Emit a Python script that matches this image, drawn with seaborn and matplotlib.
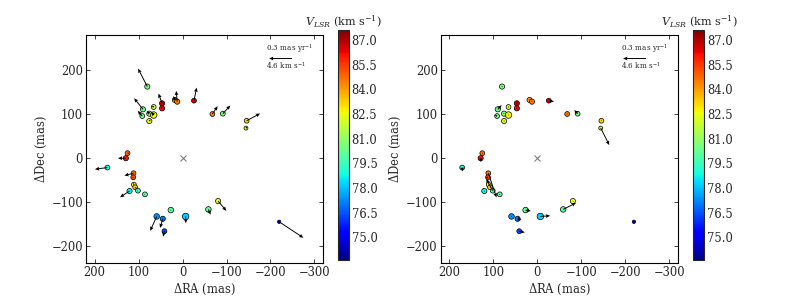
import numpy as np
import pandas as pd
import seaborn as sns
import matplotlib.pyplot as plt
from matplotlib import cm, colors

# spot positions (mas), LSR velocity (km/s), marker size
ra = [80.2, 46.6, 46.6, 17.6, 12.2, -26.0, -67.9, -91.6, -145.8, -144.3,
      90.1, 91.6, 75.6, 65.6, 65.6, 75.6,
      125.2, 129.0, 171.0, 111.5, 112.2, 110.7, 107.6, 120.6, 101.5, 85.5,
      -80.9, -58.8, 26.7, -6.9, 58.8, 45.0, 41.2, -219.8]
dec = [162.6, 124.4, 113.0, 132.1, 128.2, 130.5, 100.0, 100.8, 84.7, 67.9,
       110.7, 95.4, 100.8, 116.0, 97.7, 84.0,
       10.7, -0.8, -22.1, -35.1, -44.3, -61.1, -67.2, -75.6, -74.8, -83.2,
       -98.5, -117.6, -119.1, -133.6, -133.6, -138.9, -167.2, -145.8]
vlsr = [80.5, 86.8, 86.2, 84.0, 84.5, 86.5, 84.5, 80.6, 83.2, 81.8,
        80.3, 80.5, 80.9, 81.7, 82.7, 82.4,
        84.7, 86.0, 79.2, 84.6, 85.3, 82.8, 83.2, 78.7, 79.6, 80.1,
        82.5, 80.2, 80.0, 78.2, 77.4, 77.0, 76.4, 74.2]
msize = [14, 14, 14, 14, 14, 12, 12, 12, 12, 8,
         14, 12, 14, 12, 22, 14,
         12, 14, 12, 12, 12, 12, 12, 14, 12, 12,
         14, 16, 16, 22, 16, 14, 12, 6]

# proper motions (mas/yr), left and right panels
pmx_a = [0.121, 0.047, 0.009, 0.017, 0.013, -0.035, -0.069, -0.099, -0.177, -0.021,
         0.116, 0.060, 0.035, 0.026, 0.035, -0.017,
         -0.026, 0.104, 0.164, 0.121, 0.010, 0.013, -0.022, 0.125, 0.010, 0.012,
         -0.108, -0.030, 0.010, -0.004, 0.086, 0.035, 0.017, -0.319]
pmy_a = [0.237, 0.129, 0.021, 0.052, 0.142, 0.172, 0.103, 0.108, 0.095, 0.017,
         0.147, 0.069, 0.035, 0.013, 0.043, 0.022,
         0.0, 0.0, -0.022, -0.030, -0.010, 0.022, -0.022, -0.082, -0.010, 0.005,
         -0.129, -0.069, 0.005, -0.090, -0.190, -0.121, -0.073, -0.211]
pmx_b = [0.005, 0.008, 0.008, 0.010, -0.008, -0.069, 0.010, 0.043, 0.006, -0.112,
         -0.052, 0.030, 0.010, 0.008, -0.008, 0.006,
         0.005, -0.004, -0.004, -0.108, 0.030, 0.008, -0.010, -0.008, 0.086, 0.006,
         -0.010, -0.168, -0.069, -0.129, 0.008, -0.052, -0.074, -0.010]
pmy_b = [0.010, 0.008, -0.005, 0.008, -0.006, -0.013, 0.0, 0.048, 0.012, -0.224,
         0.056, 0.010, 0.010, 0.008, 0.006, 0.008,
         0.005, -0.052, -0.052, -0.319, -0.010, 0.010, -0.010, -0.012, 0.155, 0.004,
         -0.008, 0.086, -0.013, 0.009, 0.004, -0.017, -0.017, 0.010]

vmin, vmax = 73.6, 87.6
cbar_ticks = [75.0, 76.5, 78.0, 79.5, 81.0, 82.5, 84.0, 85.5, 87.0]
pm_scale = 1 / 173.0  # mas/yr -> mas on the plot

df = pd.DataFrame({'ra': ra, 'dec': dec, 'vlsr': vlsr, 'size': msize})

sns.set_style("ticks")
plt.rcParams['font.family'] = ['DejaVu Serif']
plt.rcParams['mathtext.fontset'] = 'dejavuserif'
plt.rcParams['xtick.direction'] = 'in'
plt.rcParams['ytick.direction'] = 'in'
plt.rcParams['xtick.top'] = True
plt.rcParams['ytick.right'] = True

fig = plt.figure(figsize=(8.1, 3.0), dpi=100)
norm = colors.Normalize(vmin=vmin, vmax=vmax)
jet = plt.get_cmap('jet')

panels = [(0.106, 0.417, pmx_a, pmy_a), (0.544, 0.856, pmx_b, pmy_b)]
for ax_left, cb_left, pmx, pmy in panels:
    ax = fig.add_axes([ax_left, 0.123, 0.293, 0.76])
    sns.scatterplot(data=df, x='ra', y='dec', hue='vlsr', size='size',
                    sizes=(min(msize), max(msize)), palette=jet, hue_norm=norm,
                    edgecolor='black', linewidth=0.5, legend=False, ax=ax, zorder=2)
    q = ax.quiver(ra, dec, pmx, pmy, angles='xy', scale_units='xy', scale=pm_scale,
                  color='black', width=0.004, headwidth=4, headlength=4.5,
                  headaxislength=4, zorder=3)
    ax.plot([0], [0], marker='x', color='gray', markersize=5, mew=0.8, ls='none')
    ax.quiverkey(q, 0.816, 0.900, 0.3, '', angle=180, coordinates='axes', labelpos='N')
    ax.text(0.758, 0.943, '0.3 mas yr$^{-1}$', transform=ax.transAxes,
            fontsize=5.2, va='center', ha='left')
    ax.text(0.758, 0.865, '4.6 km s$^{-1}$', transform=ax.transAxes,
            fontsize=5.2, va='center', ha='left')
    ax.set_xlim(220, -320)
    ax.set_ylim(-240, 280)
    ax.set_xticks([200, 100, 0, -100, -200, -300])
    ax.set_yticks([-200, -100, 0, 100, 200])
    ax.set_xlabel(r'$\Delta$RA (mas)', fontsize=8.3, labelpad=2)
    ax.set_ylabel(r'$\Delta$Dec (mas)', fontsize=8.3, labelpad=2)
    ax.tick_params(labelsize=8.3, length=3, width=0.6, pad=2)
    for sp in ax.spines.values():
        sp.set_color('black')
        sp.set_linewidth(0.8)

    cax = fig.add_axes([cb_left, 0.132, 0.0136, 0.768])
    sm = cm.ScalarMappable(norm=norm, cmap=jet)
    cb = fig.colorbar(sm, cax=cax, ticks=cbar_ticks, format='%.1f')
    cb.ax.tick_params(labelsize=8.3, length=3, width=0.6, direction='in', pad=2)
    cb.outline.set_linewidth(0.8)
    cb.ax.set_title(r'$V_{LSR}$ (km s$^{-1}$)', fontsize=8, pad=3)

plt.savefig('out.png', dpi=100)
